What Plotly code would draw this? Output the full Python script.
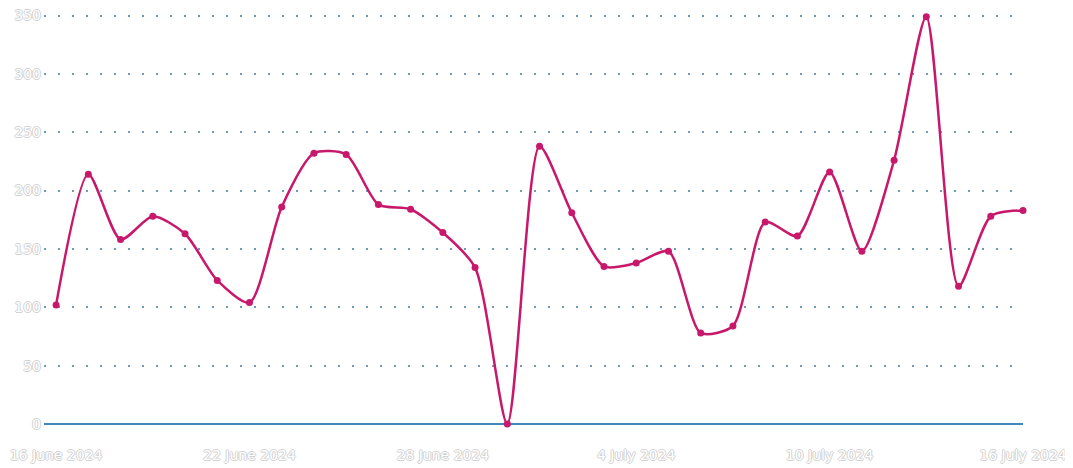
import plotly.graph_objects as go
import pandas as pd

dates = pd.date_range("2024-06-16", "2024-07-16", freq="D")
values = [102, 214, 158, 178, 163, 123, 104, 186, 232, 231, 188, 184, 164, 134, 0,
          238, 181, 135, 138, 148, 78, 84, 173, 161, 216, 148, 226, 349, 118, 178, 183]
x_tick_vals = ["2024-06-16", "2024-06-22", "2024-06-28", "2024-07-04", "2024-07-10", "2024-07-16"]
x_tick_text = ["16 June 2024", "22 June 2024", "28 June 2024", "4 July 2024", "10 July 2024", "16 July 2024"]
y_tick_vals = [0, 50, 100, 150, 200, 250, 300, 350]

line_color = "#c8186c"
outline = "-1px 0 #d2d2d2, 1px 0 #d2d2d2, 0 -1px #d2d2d2, 0 1px #d2d2d2"
tick_font = dict(family="DejaVu Sans, Liberation Sans, sans-serif", size=14,
                 color="white", shadow=outline)

fig = go.Figure()
fig.add_trace(go.Scatter(
    x=dates, y=values, mode="lines+markers",
    line=dict(color=line_color, width=2.5, shape="spline", smoothing=0.7),
    marker=dict(color=line_color, size=7),
    cliponaxis=False,
))

# the page body has an 8px default margin; the figure is sized to fit the window
fig.update_layout(
    width=1065, height=460,
    margin=dict(l=36, r=50, t=4, b=44, autoexpand=False),
    paper_bgcolor="white", plot_bgcolor="white",
    showlegend=False,
)
fig.update_xaxes(
    range=[pd.Timestamp("2024-06-16") - pd.Timedelta(hours=9), pd.Timestamp("2024-07-16")],
    tickvals=x_tick_vals, ticktext=x_tick_text, tickfont=tick_font,
    showgrid=False, zeroline=False, showline=False, automargin=False,
    ticks="outside", ticklen=18, tickcolor="rgba(0,0,0,0)", ticklabeloverflow="allow",
)
fig.update_yaxes(
    range=[0, 353], tickvals=y_tick_vals, tickfont=tick_font,
    showgrid=True, gridcolor="#6e9ab8", gridwidth=1.5, griddash="2px,12px",
    zeroline=True, zerolinecolor="#3d8bbd", zerolinewidth=2,
    showline=False, ticks="", ticklabelstandoff=2, automargin=False,
    ticklabeloverflow="allow",
)

fig.write_html("out.html")
